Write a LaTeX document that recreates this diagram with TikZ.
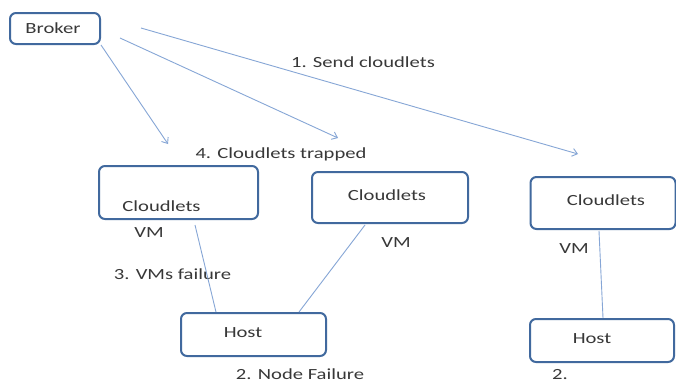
\documentclass[tikz,border=0pt]{standalone}
\usepackage{fontspec}
\usetikzlibrary{arrows.meta}
\setmainfont{Carlito}[FakeStretch=1.33]
\definecolor{boxblue}{HTML}{41699E}
\definecolor{linkblue}{HTML}{86A6D6}
\definecolor{txtgray}{HTML}{383838}
\tikzset{
	box/.style={draw=boxblue, line width=2pt, rounded corners=6pt, inner sep=0pt},
	link/.style={linkblue, line width=0.9pt},
	lbl/.style={anchor=base, text=txtgray, inner sep=0pt}
}
\begin{document}
\begin{tikzpicture}[x=1pt, y=-1pt, font=\fontsize{15.5}{18}\selectfont]
	\useasboundingbox[fill=white] (0,0) rectangle (676,383);
	%boxes
	\node[box, minimum width=90pt, minimum height=31pt] (broker) at (55,28.5) {};
	\node[box, minimum width=159pt, minimum height=53pt] (cl1) at (178.5,192.5) {};
	\node[box, minimum width=156pt, minimum height=51pt] (cl2) at (390,197.5) {};
	\node[box, minimum width=145pt, minimum height=52pt] (cl3) at (603,203) {};
	\node[box, minimum width=145pt, minimum height=43pt] (host1) at (253.5,334.5) {};
	\node[box, minimum width=144pt, minimum height=43pt] (host2) at (602,340.5) {};
	%texts
	\node[lbl] (tbroker) at (53,33) {Broker};
	\node[lbl] (tcl1) at (161.5,211) {Cloudlets};
	\node[lbl] (tcl2) at (387,200) {Cloudlets};
	\node[lbl] (tcl3) at (606,205) {Cloudlets};
	\node[lbl] (vm1) at (149,237) {VM};
	\node[lbl] (vm2) at (396,247) {VM};
	\node[lbl] (vm3) at (574,253) {VM};
	\node[lbl] (thost1) at (243,337) {Host};
	\node[lbl] (thost2) at (592,343) {Host};
	\node[lbl] (send) at (363,67) {1. Send cloudlets};
	\node[lbl] (trapped) at (281,158) {4. Cloudlets trapped};
	\node[lbl] (vmfail) at (172.5,279) {3. VMs failure};
	\node[lbl] (nodefail) at (300,379) {2. Node Failure};
	\node[lbl] (two) at (560,379) {2.};
	%arrows
	\coordinate (a2s) at (120,38);
	\coordinate (a3s) at (141,28);
	\coordinate (a1e) at (168,144);
	\coordinate (a2e) at (338,138);
	\coordinate (a3e) at (578,154);
	\draw[link, -{Straight Barb[length=5pt,width=8pt]}] (broker.south east) -- (a1e);
	\draw[link, -{Straight Barb[length=5pt,width=8pt]}] (a2s) -- (a2e);
	\draw[link, -{Straight Barb[length=5pt,width=8pt]}] (a3s) -- (a3e);
	%lines
	\draw[link] ([xshift=16.5pt,yshift=-5pt]cl1.south) -- ([xshift=-37.5pt]host1.north);
	\draw[link] ([xshift=-25pt,yshift=-1pt]cl2.south) -- ([xshift=45.5pt]host1.north);
	\draw[link] ([xshift=-4pt,yshift=-1pt]cl3.south) -- ([xshift=1pt]host2.north);
\end{tikzpicture}
\end{document}
